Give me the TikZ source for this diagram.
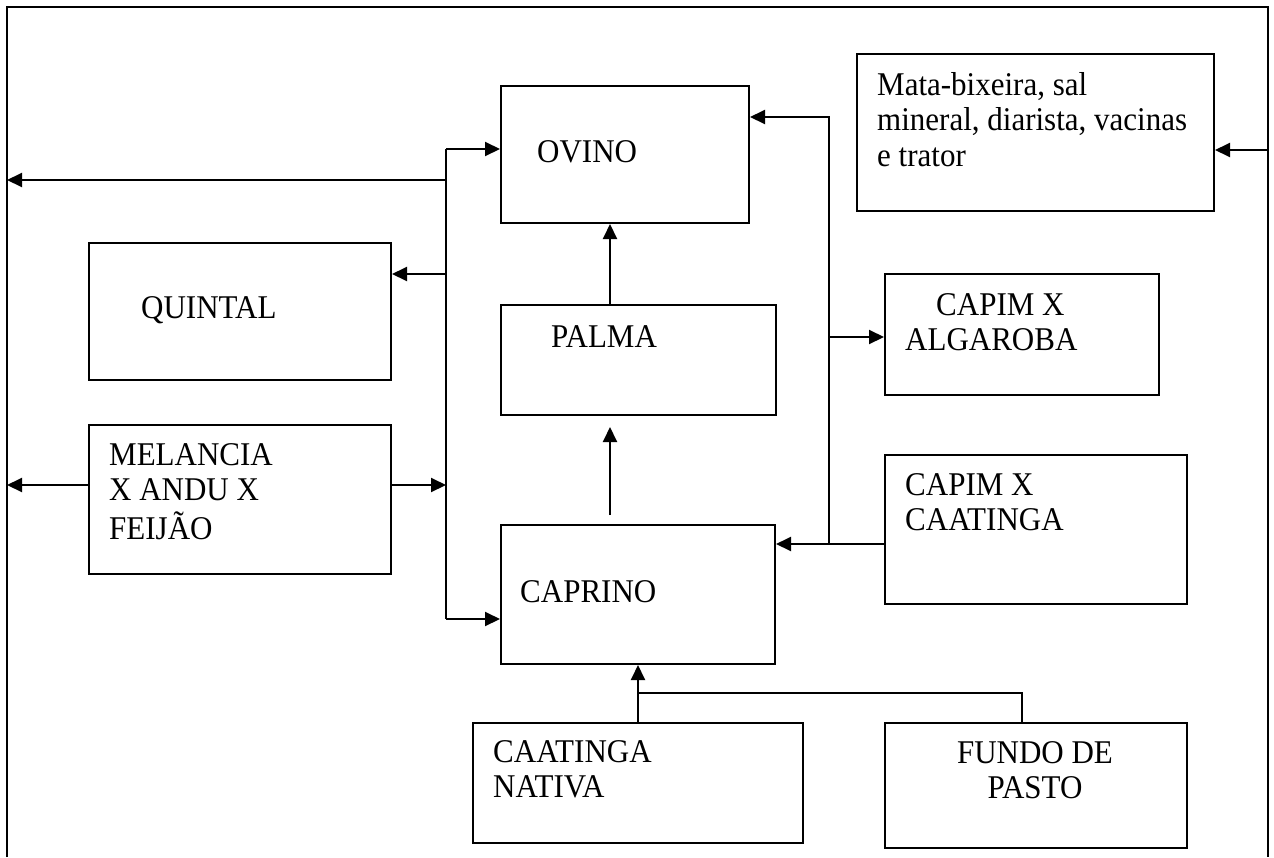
\documentclass[tikz,border=0pt]{standalone}
\usepackage{fontspec}
\setmainfont{Liberation Serif}
\usetikzlibrary{arrows.meta}
\newcommand{\tallt}[1]{\scalebox{1}[1.07]{#1}}
\begin{document}
\begin{tikzpicture}[x=1pt,y=-1pt,
  box/.style={draw, line width=2pt, rectangle, inner sep=0pt},
  lbl/.style={inner sep=0pt, anchor=base west, font=\fontsize{31}{33.6}\selectfont},
  lblc/.style={inner sep=0pt, anchor=base, font=\fontsize{31}{33.6}\selectfont},
  arr/.style={-{Triangle[length=15pt,width=14pt]}, line width=2pt},
  ln/.style={line width=2pt}]
\useasboundingbox (0,0) rectangle (1274,857);
% outer frame
\coordinate (fBL) at (7,857);
\coordinate (fTL) at (7,7);
\coordinate (fTR) at (1268,7);
\coordinate (fBR) at (1268,857);
\draw[ln] (fBL) -- (fTL) -- (fTR) -- (fBR);
% boxes
\node[box, minimum width=248pt, minimum height=137pt] (ovino) at (625,154.5) {};
\node[box, minimum width=357pt, minimum height=157pt] (mata) at (1035.5,132.5) {};
\node[box, minimum width=302pt, minimum height=137pt] (quintal) at (240,311.5) {};
\node[box, minimum width=275pt, minimum height=110pt] (palma) at (638.5,360) {};
\node[box, minimum width=274pt, minimum height=121pt] (algaroba) at (1022,334.5) {};
\node[box, minimum width=302pt, minimum height=149pt] (melancia) at (240,499.5) {};
\node[box, minimum width=274pt, minimum height=139pt] (caprino) at (638,594.5) {};
\node[box, minimum width=302pt, minimum height=149pt] (capcaat) at (1036,529.5) {};
\node[box, minimum width=330pt, minimum height=120pt] (caatinga) at (638,783) {};
\node[box, minimum width=302pt, minimum height=125pt] (fundo) at (1036,785.5) {};
% texts
\node[lbl] (ovinoT) at (537,162) {\tallt{OVINO}};
\node[lbl] (mataT) at (877,95) {\tallt{\begin{tabular}[t]{@{}l@{}}Mata-bixeira, sal\\mineral, diarista, vacinas\\e trator\end{tabular}}};
\node[lbl] (quintalT) at (141,318) {\tallt{QUINTAL}};
\node[lbl] (palmaT) at (551,347) {\tallt{PALMA}};
\node[lbl] (algT) at (905,315) {\tallt{\begin{tabular}[t]{@{}l@{}}\hspace*{31pt}CAPIM X\\ALGAROBA\end{tabular}}};
\node[lbl] (melT) at (109,465) {\tallt{\begin{tabular}[t]{@{}l@{}}MELANCIA\\X ANDU X\\FEIJÃO\end{tabular}}};
\node[lbl] (caprinoT) at (520,602) {\tallt{CAPRINO}};
\node[lbl] (capcaatT) at (905,495) {\tallt{\begin{tabular}[t]{@{}l@{}}CAPIM X\\CAATINGA\end{tabular}}};
\node[lbl] (caatT) at (493,762) {\tallt{\begin{tabular}[t]{@{}l@{}}CAATINGA\\NATIVA\end{tabular}}};
\node[lblc] (fundoT) at (1035,763) {\tallt{\begin{tabular}[t]{@{}c@{}}FUNDO DE\\PASTO\end{tabular}}};
% left bus
\coordinate (busTop) at (446,149);
\coordinate (busBot) at (446,619);
\coordinate (busL) at (446,180);
\coordinate (busQ) at (446,274);
\coordinate (busM) at (446,485);
\coordinate (frameL180) at (7,180);
\coordinate (frameL485) at (7,485);
\draw[ln] (busTop) -- (busBot);
\draw[arr] (busTop) -- (ovino.west |- busTop);
\draw[arr] (busBot) -- (caprino.west |- busBot);
\draw[arr] (busL) -- (frameL180);
\draw[arr] (busQ) -- (quintal.east |- busQ);
\draw[arr] (melancia.east |- busM) -- (busM);
\draw[arr] (melancia.west |- busM) -- (frameL485);
% center column
\draw[arr] (palma.north -| 610,0) -- (ovino.south -| 610,0);
\coordinate (capUp) at (610,515);
\coordinate (palUp) at (610,427);
\draw[arr] (capUp) -- (palUp);
% right bus
\coordinate (rbTop) at (829,117);
\coordinate (rbBot) at (829,544);
\coordinate (rbA) at (829,337);
\draw[ln] (capcaat.west |- rbBot) -- (rbBot);
\draw[arr] (rbBot) -- (rbTop) -- (ovino.east |- rbTop);
\draw[arr] (rbBot) -- (caprino.east |- rbBot);
\draw[arr] (rbA) -- (algaroba.west |- rbA);
% mata arrow
\coordinate (frameR150) at (1268,150);
\draw[arr] (frameR150) -- (mata.east |- frameR150);
% bottom
\coordinate (jn) at (638,693);
\coordinate (jf) at (1022,693);
\draw[ln] (jn) -- (jf) -- (fundo.north -| jf);
\draw[arr] (caatinga.north) -- (caprino.south);
\end{tikzpicture}
\end{document}
